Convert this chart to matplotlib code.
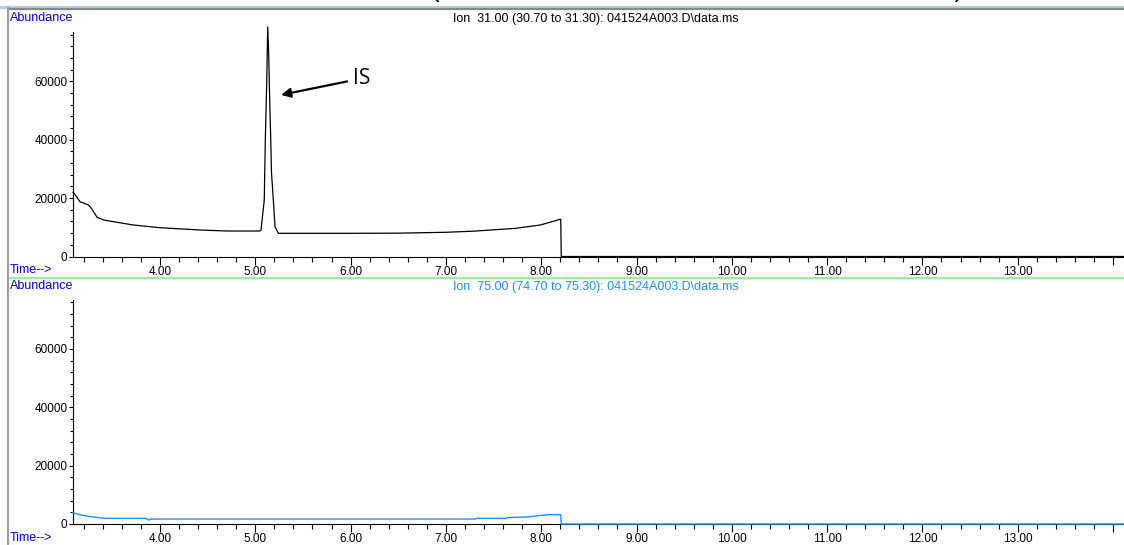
import matplotlib
matplotlib.use("Agg")
import matplotlib.pyplot as plt
from matplotlib.ticker import MultipleLocator, FixedLocator, FixedFormatter
from matplotlib.lines import Line2D

# ion 31 trace (top)
top_time = [3.087, 3.098, 3.16, 3.25, 3.28, 3.34, 3.41, 3.55, 3.72, 4.00, 4.42, 4.70, 5.05,
            5.06, 5.094, 5.105, 5.12, 5.13, 5.14, 5.15, 5.162, 5.17, 5.189, 5.207, 5.241,
            6.00, 6.50, 7.00, 7.30, 7.57, 7.73, 7.99, 8.11, 8.195, 8.205, 8.21, 14.2]
top_abund = [22000, 21670, 18800, 17650, 16500, 13440, 12500, 11720, 10800, 9870, 9085, 8740, 8740,
             9100, 19400, 40000, 60000, 78700, 70000, 55000, 40000, 28600, 19400, 10200, 7950,
             7950, 8000, 8300, 8700, 9300, 9650, 10800, 11900, 12750, 12750, 0, 0]

# ion 75 trace (bottom)
bot_time = [3.087, 3.18, 3.30, 3.42, 3.84, 3.87, 3.88, 3.90, 5.00, 6.00, 7.00, 7.31, 7.32,
            7.63, 7.64, 7.84, 7.94, 8.08, 8.205, 8.21, 14.2]
bot_abund = [3870, 3000, 2400, 1950, 1950, 1700, 1300, 1700, 1700, 1700, 1700, 1700, 1950,
             1950, 2200, 2400, 2740, 3200, 3200, 0, 0]

major_x = [4, 5, 6, 7, 8, 9, 10, 11, 12, 13, 14]
major_x_labels = ["4.00", "5.00", "6.00", "7.00", "8.00", "9.00", "10.00", "11.00", "12.00", "13.00", ""]
top_title = "Ion  31.00 (30.70 to 31.30): 041524A003.D\\data.ms"
bot_title = "Ion  75.00 (74.70 to 75.30): 041524A003.D\\data.ms"

W, H = 1124, 545
fig = plt.figure(figsize=(W / 100, H / 100), dpi=100)

narrow = ["Liberation Sans Narrow", "Liberation Sans"]
regular = ["Liberation Sans", "DejaVu Sans"]
blue = "#0000ff"


def px(x, y):
    return x / W, 1 - y / H


def setup(ax):
    ax.set_xlim(3.087, 14.115)
    ax.set_ylim(0, 79000)
    ax.spines["top"].set_visible(False)
    ax.spines["right"].set_visible(False)
    ax.spines["left"].set_bounds(0, 76800)
    ax.xaxis.set_major_locator(FixedLocator(major_x))
    ax.xaxis.set_major_formatter(FixedFormatter(major_x_labels))
    ax.xaxis.set_minor_locator(MultipleLocator(0.2))
    ax.yaxis.set_major_locator(MultipleLocator(20000))
    ax.yaxis.set_minor_locator(MultipleLocator(4000))
    ax.tick_params(axis="x", which="major", length=6, width=0.8, pad=0.5, labelsize=8.5)
    ax.tick_params(axis="x", which="minor", length=3.5, width=0.8)
    ax.tick_params(axis="y", which="major", length=3, width=0.8, pad=1, labelsize=8.5)
    ax.tick_params(axis="y", which="minor", length=2, width=0.8)
    for lab in ax.get_xticklabels():
        lab.set_family(narrow)
    for lab in ax.get_yticklabels():
        lab.set_family(regular)


ax1 = fig.add_axes([73 / W, 1 - 256.5 / H, 1 - 73 / W, 79000 * 0.002917 / H])
ax2 = fig.add_axes([73 / W, 1 - 524 / H, 1 - 73 / W, 79000 * 0.002917 / H])
setup(ax1)
setup(ax2)

ax1.plot(top_time, top_abund, color="black", lw=0.9, clip_on=False)
ax2.plot(bot_time, bot_abund, color="#1e90ff", lw=1.0, clip_on=False, zorder=5)

ax1.annotate("IS", xy=(5.27, 55400), xytext=(6.02, 61000), fontsize=15, family=["Open Sans", "DejaVu Sans"],
             va="center", ha="left",
             arrowprops=dict(arrowstyle="-|>", color="black", lw=1.6, mutation_scale=14, shrinkA=2, shrinkB=0))

# labels
fig.text(*px(10, 18), "Abundance", color=blue, fontsize=9, family=regular, va="center", ha="left")
fig.text(*px(10, 286), "Abundance", color=blue, fontsize=9, family=regular, va="center", ha="left")
fig.text(*px(10, 270), "Time-->", color=blue, fontsize=9, family=regular, va="center", ha="left")
fig.text(*px(10, 538), "Time-->", color=blue, fontsize=9, family=regular, va="center", ha="left")
fig.text(*px(596, 19), top_title, color="black", fontsize=9, family=narrow, va="center", ha="center")
fig.text(*px(596, 287), bot_title, color="#1e90ff", fontsize=9, family=narrow, va="center", ha="center")

# window chrome: cut caption, top band, left border, green separator
fig.text(*px(432, 5), "(", fontsize=20, family=["Open Sans", "DejaVu Sans"], va="bottom", ha="left")
fig.text(*px(953, 5), ")", fontsize=20, family=["Open Sans", "DejaVu Sans"], va="bottom", ha="left")
fig.add_artist(Line2D([0, 1], [1 - 6.5 / H] * 2, color="#b4cce6", lw=2.4, transform=fig.transFigure))
fig.add_artist(Line2D([8.5 / W, 1], [1 - 9 / H] * 2, color="#888888", lw=1.6, transform=fig.transFigure))
fig.add_artist(Line2D([8.3 / W] * 2, [0, 1 - 8 / H], color="#a0a0a0", lw=1.6, transform=fig.transFigure))
fig.add_artist(Line2D([10 / W, 1], [1 - 278 / H] * 2, color="#80f080", lw=1.2, transform=fig.transFigure))

fig.savefig("out.png", dpi=100)
